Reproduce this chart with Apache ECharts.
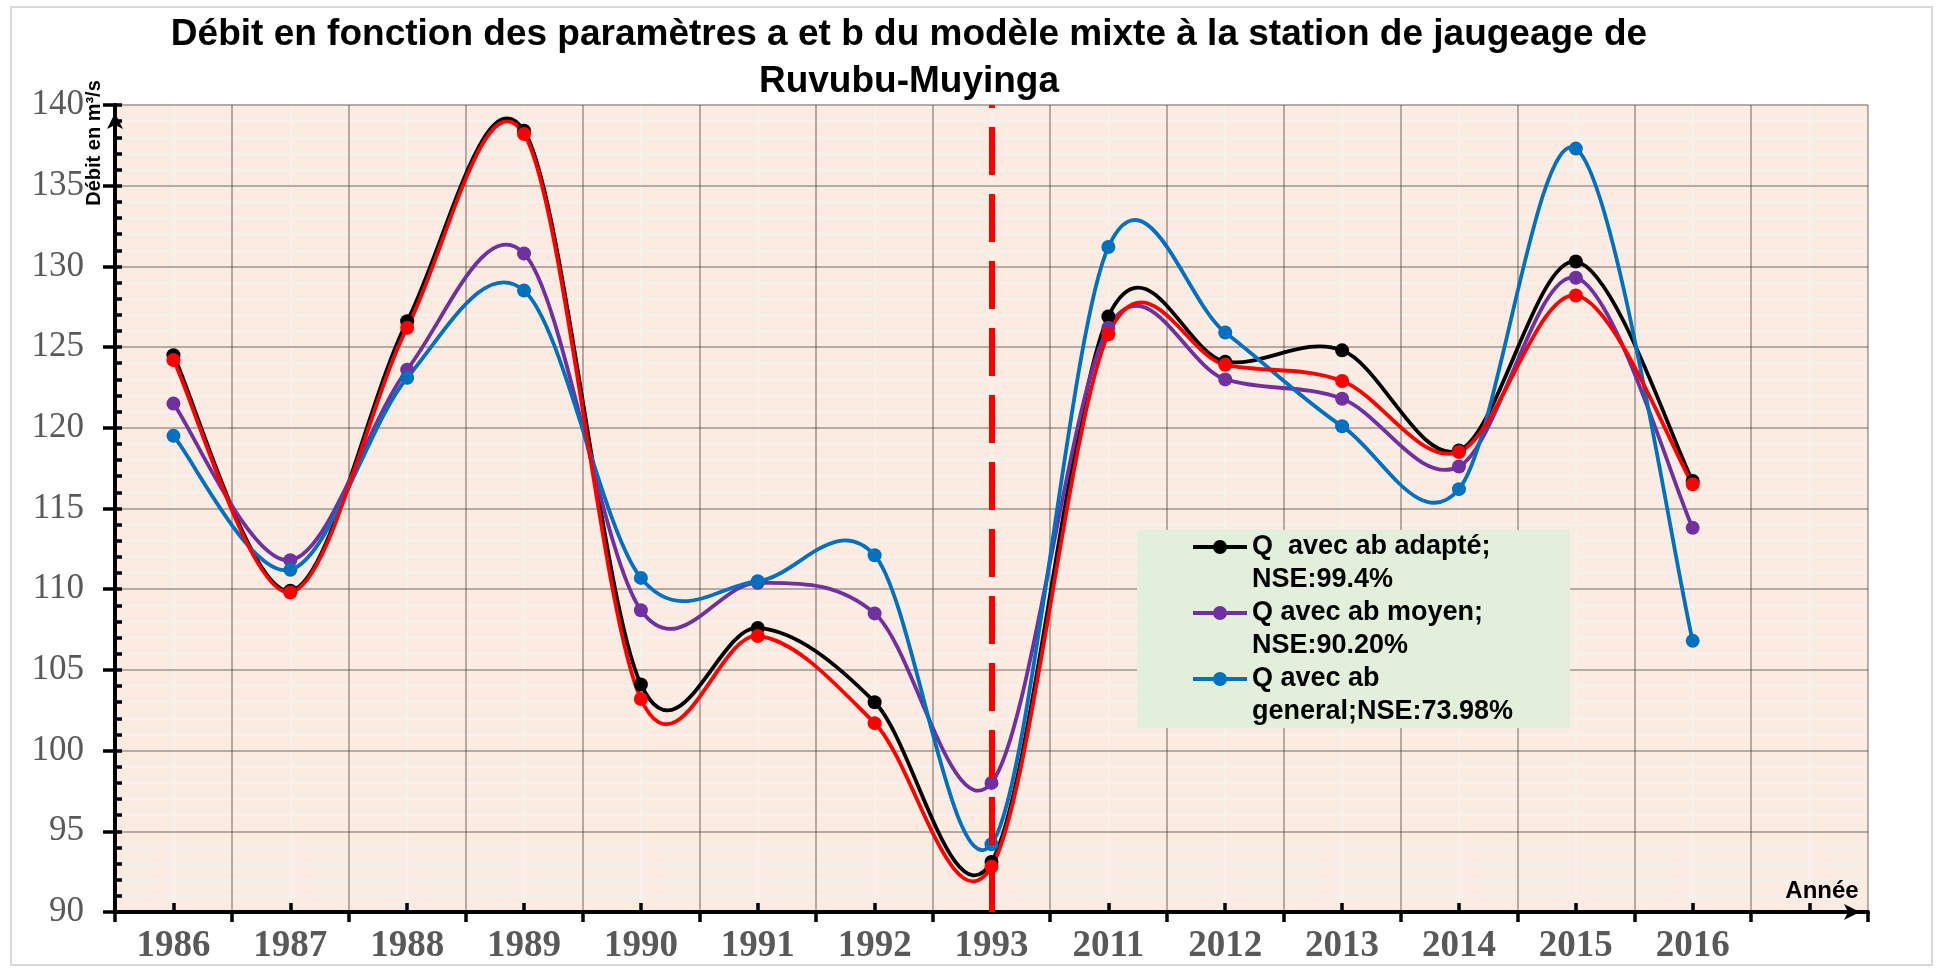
<!DOCTYPE html>
<html>
<head>
<meta charset="utf-8">
<script src="https://cdn.jsdelivr.net/npm/echarts@6/dist/echarts.min.js"></script>
<style>html,body{margin:0;padding:0;background:#fff;}#c{width:1937px;height:970px;}</style>
</head>
<body>
<div id="c"></div>
<script>
// ---- data ----
const years = ['1986','1987','1988','1989','1990','1991','1992','1993','2011','2012','2013','2014','2015','2016'];
const qAdapte  = [124.5, 109.9, 126.6, 138.4, 104.1, 107.6, 103.0, 93.1, 126.9, 124.1, 124.8, 118.6, 130.3, 116.7];
const qMoyen   = [121.5, 111.8, 123.6, 130.8, 108.7, 110.4, 108.5, 98.0, 126.2, 123.0, 121.8, 117.6, 129.3, 113.8];
const qGeneral = [119.5, 111.2, 123.1, 128.5, 110.7, 110.5, 112.1, 94.2, 131.2, 125.9, 120.1, 116.2, 137.3, 106.8];
const qRouge   = [124.2, 109.8, 126.2, 138.2, 103.2, 107.1, 101.7, 92.8, 125.8, 123.9, 122.9, 118.5, 128.2, 116.5];
const nameAdapte  = 'Q  avec ab adapté;\nNSE:99.4%';
const nameMoyen   = 'Q avec ab moyen;\nNSE:90.20%';
const nameGeneral = 'Q avec ab\ngeneral;NSE:73.98%';
const nameRouge   = 'Q observé';
const breakYear = '1993';
const titleText = 'Débit en fonction des paramètres a et b du modèle mixte à la station de jaugeage de\nRuvubu-Muyinga';
const yName = 'Débit en m³/s';
const xName = 'Année';

// ---- chart ----
const cats = years.concat(['']);
const sans = '"Liberation Sans", Arial, sans-serif';
const serif = '"Liberation Serif", "Times New Roman", serif';
const icon = 'path://M0 0L0 0M54 66L54 66M0 15L54 15L54 19L0 19ZM20 17A7 7 0 0 1 34 17A7 7 0 0 1 20 17Z';

const chart = echarts.init(document.getElementById('c'), null, {renderer: 'canvas'});

// Spreadsheet-style smoothed curve (cardinal spline through the points, drawn in axis coordinates)
function curveSeries(key, values, color) {
  return {
    name: key, type: 'custom', coordinateSystem: 'cartesian2d',
    xAxisIndex: 0, yAxisIndex: 0, silent: true,
    data: values.map(function (v, i) { return [i, v]; }),
    renderItem: function (params, api) {
      if (params.dataIndex !== 0) return null;
      const p = values.map(function (v, i) { return api.coord([i, v]); });
      let d = 'M' + p[0][0] + ' ' + p[0][1];
      for (let i = 0; i < p.length - 1; i++) {
        const p0 = p[i - 1] || p[i], p1 = p[i], p2 = p[i + 1], p3 = p[i + 2] || p[i + 1];
        const c1x = p1[0] + (p2[0] - p0[0]) / 6, c1y = p1[1] + (p2[1] - p0[1]) / 6;
        const c2x = p2[0] - (p3[0] - p1[0]) / 6, c2y = p2[1] - (p3[1] - p1[1]) / 6;
        d += 'C' + c1x + ' ' + c1y + ' ' + c2x + ' ' + c2y + ' ' + p2[0] + ' ' + p2[1];
      }
      return {type: 'path', shape: {pathData: d}, style: {fill: 'none', stroke: color, lineWidth: 3.8, lineJoin: 'round', lineCap: 'round'}};
    },
    z: 3
  };
}
function pointSeries(name, data, color, extra) {
  return Object.assign({
    name: name, type: 'line', data: data,
    symbol: 'circle', symbolSize: 14, showSymbol: true,
    lineStyle: {color: color, width: 0, opacity: 0},
    itemStyle: {color: color},
    emphasis: {disabled: true},
    z: 3
  }, extra || {});
}
chart.setOption({
  animation: false,
  backgroundColor: '#ffffff',
  title: {
    text: titleText, left: 909, top: 12, textAlign: 'center', padding: 0,
    textStyle: {fontFamily: sans, fontWeight: 'bold', fontSize: 37, lineHeight: 46.5, color: '#000'}
  },
  graphic: [
    {type: 'rect', shape: {x: 11, y: 7, width: 1921, height: 958}, style: {fill: 'none', stroke: '#D9D9D9', lineWidth: 2}, z: -10},
    {type: 'text', x: 94, y: 143, rotation: Math.PI / 2, z: 10,
     style: {text: yName, fontFamily: sans, fontWeight: 'bold', fontSize: 20, fill: '#000', align: 'center', verticalAlign: 'middle'}},
    {type: 'text', x: 1822, y: 891, z: 10,
     style: {text: xName, fontFamily: sans, fontWeight: 'bold', fontSize: 24, fill: '#000', align: 'center', verticalAlign: 'middle'}}
  ],
  legend: {
    orient: 'vertical', left: 1137, top: 530,
    itemWidth: 54, itemHeight: 66, itemGap: 0,
    padding: [0, 57, 0, 56],
    backgroundColor: '#E2EFDA',
    selectedMode: false,
    textStyle: {fontFamily: sans, fontWeight: 'bold', fontSize: 27, lineHeight: 33, color: '#000'},
    data: [
      {name: nameAdapte, icon: icon},
      {name: nameMoyen, icon: icon},
      {name: nameGeneral, icon: icon}
    ]
  },
  grid: {left: 115, right: 69, top: 105, bottom: 58, show: true, backgroundColor: '#FBEBE1', borderWidth: 0},
  xAxis: [
    {
      type: 'category', data: cats, boundaryGap: true, z: 2,
      axisLine: {lineStyle: {color: '#000', width: 4}, symbol: ['none', 'arrow'], symbolSize: [12, 16], symbolOffset: [0, -8]},
      axisTick: {show: true, inside: false, length: 10, lineStyle: {color: '#000', width: 3.5}},
      axisLabel: {fontFamily: serif, fontWeight: 'bold', fontSize: 37, color: '#595959', margin: 16, interval: 0},
      splitLine: {show: true, interval: 0, lineStyle: {color: 'rgba(60,40,30,0.35)', width: 2}}
    },
    {
      type: 'category', data: cats, boundaryGap: true, z: 1, position: 'bottom',
      axisLine: {show: false},
      axisTick: {show: true, inside: true, alignWithLabel: true, length: 9, interval: 0, lineStyle: {color: '#000', width: 3.5}},
      axisLabel: {show: false},
      splitLine: {show: true, alignWithLabel: true, interval: 0, lineStyle: {color: '#F5F1EF', width: 2}}
    }
  ],
  yAxis: [
    {
      type: 'value', min: 90, max: 140, interval: 5, z: 2,
      axisLine: {show: true, lineStyle: {color: '#000', width: 4}, symbol: ['none', 'arrow'], symbolSize: [12, 16], symbolOffset: [0, -8]},
      axisTick: {show: true, inside: false, length: 12, lineStyle: {color: '#000', width: 3.5}},
      axisLabel: {fontFamily: serif, fontSize: 35, color: '#595959', margin: 31},
      splitLine: {show: true, lineStyle: {color: 'rgba(60,40,30,0.35)', width: 2}}
    },
    {
      type: 'value', min: 90, max: 140, interval: 1, z: 1, position: 'left',
      axisLine: {show: false},
      axisTick: {show: true, inside: true, length: 7, lineStyle: {color: '#000', width: 3.5}},
      axisLabel: {show: false},
      splitLine: {show: true, lineStyle: {color: '#F5F1EF', width: 2}}
    }
  ],
  series: [
    curveSeries('courbe adapté', qAdapte, '#000000'),
    pointSeries(nameAdapte, qAdapte, '#000000'),
    curveSeries('courbe moyen', qMoyen, '#7030A0'),
    pointSeries(nameMoyen, qMoyen, '#7030A0'),
    curveSeries('courbe general', qGeneral, '#0070C0'),
    pointSeries(nameGeneral, qGeneral, '#0070C0'),
    curveSeries('courbe observé', qRouge, '#FF0000'),
    pointSeries(nameRouge, qRouge, '#FF0000', {
      markLine: {
        silent: true, symbol: ['none', 'none'], label: {show: false},
        lineStyle: {color: '#FF0000', width: 6, type: [48, 19], opacity: 1},
        emphasis: {disabled: true},
        data: [{xAxis: breakYear}]
      }
    })
  ]
});
</script>
</body>
</html>
